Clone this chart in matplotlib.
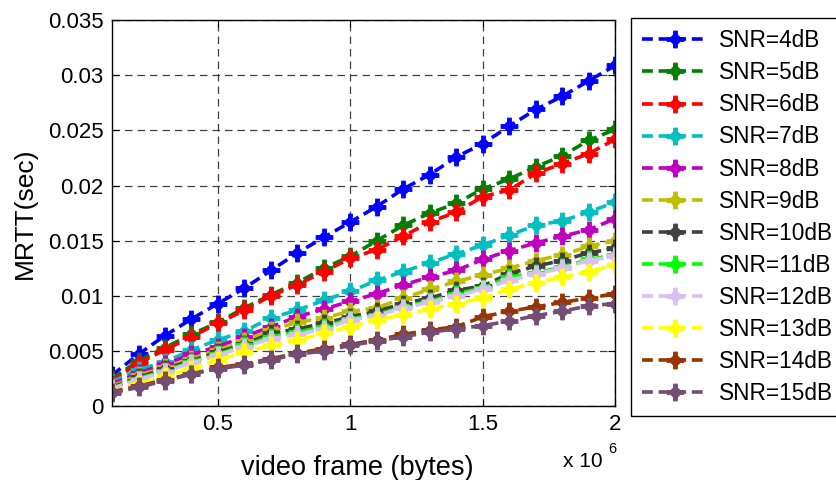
import numpy as np
import matplotlib
matplotlib.use("Agg")
import matplotlib.pyplot as plt
from matplotlib.path import Path

plt.rcParams['font.family'] = ['Liberation Sans', 'DejaVu Sans']

# video frame size in bytes
frame_sizes = [1e5, 2e5, 3e5, 4e5, 5e5, 6e5, 7e5, 8e5, 9e5, 10e5,
               11e5, 12e5, 13e5, 14e5, 15e5, 16e5, 17e5, 18e5, 19e5, 20e5]

snr_labels = ['SNR=4dB', 'SNR=5dB', 'SNR=6dB', 'SNR=7dB', 'SNR=8dB', 'SNR=9dB',
              'SNR=10dB', 'SNR=11dB', 'SNR=12dB', 'SNR=13dB', 'SNR=14dB', 'SNR=15dB']

# mean round-trip time (sec) per SNR level
mrtt_4db = [0.0028, 0.0047, 0.0064, 0.0079, 0.0093, 0.0107, 0.0123, 0.0139, 0.0153, 0.0167,
            0.0181, 0.0197, 0.0210, 0.0226, 0.0238, 0.0254, 0.0269, 0.0281, 0.0295, 0.0309]
mrtt_5db = [0.0025, 0.0041, 0.0053, 0.0065, 0.0076, 0.0089, 0.0101, 0.0112, 0.0125, 0.0136,
            0.0150, 0.0164, 0.0175, 0.0184, 0.0197, 0.0206, 0.0217, 0.0227, 0.0241, 0.0251]
mrtt_6db = [0.0023, 0.0039, 0.0051, 0.0063, 0.0075, 0.0087, 0.0100, 0.0110, 0.0122, 0.0134,
            0.0142, 0.0154, 0.0167, 0.0176, 0.0190, 0.0196, 0.0211, 0.0220, 0.0229, 0.0242]
mrtt_7db = [0.0022, 0.0033, 0.0040, 0.0051, 0.0060, 0.0068, 0.0080, 0.0087, 0.0096, 0.0104,
            0.0114, 0.0122, 0.0130, 0.0138, 0.0146, 0.0155, 0.0164, 0.0168, 0.0176, 0.0185]
mrtt_8db = [0.0020, 0.0030, 0.0038, 0.0047, 0.0054, 0.0063, 0.0072, 0.0081, 0.0088, 0.0095,
            0.0102, 0.0110, 0.0117, 0.0123, 0.0133, 0.0141, 0.0148, 0.0154, 0.0160, 0.0170]
mrtt_9db = [0.0018, 0.0028, 0.0035, 0.0043, 0.0051, 0.0059, 0.0069, 0.0076, 0.0080, 0.0086,
            0.0089, 0.0098, 0.0106, 0.0113, 0.0119, 0.0125, 0.0132, 0.0137, 0.0145, 0.0150]
mrtt_10db = [0.0017, 0.0026, 0.0034, 0.0041, 0.0049, 0.0056, 0.0066, 0.0070, 0.0075, 0.0081,
             0.0086, 0.0093, 0.0098, 0.0105, 0.0109, 0.0120, 0.0127, 0.0132, 0.0139, 0.0143]
mrtt_11db = [0.0016, 0.0025, 0.0032, 0.0040, 0.0047, 0.0055, 0.0063, 0.0067, 0.0072, 0.0079,
             0.0083, 0.0090, 0.0095, 0.0102, 0.0107, 0.0117, 0.0121, 0.0126, 0.0133, 0.0137]
mrtt_12db = [0.0016, 0.0024, 0.0031, 0.0039, 0.0046, 0.0054, 0.0061, 0.0065, 0.0070, 0.0078,
             0.0082, 0.0089, 0.0094, 0.0100, 0.0106, 0.0114, 0.0120, 0.0125, 0.0132, 0.0136]
mrtt_13db = [0.0013, 0.0020, 0.0027, 0.0034, 0.0042, 0.0049, 0.0055, 0.0060, 0.0066, 0.0072,
             0.0078, 0.0083, 0.0088, 0.0093, 0.0098, 0.0106, 0.0112, 0.0117, 0.0122, 0.0128]
mrtt_14db = [0.0013, 0.0018, 0.0024, 0.0029, 0.0035, 0.0038, 0.0043, 0.0048, 0.0052, 0.0056,
             0.0060, 0.0065, 0.0069, 0.0072, 0.0081, 0.0086, 0.0090, 0.0094, 0.0098, 0.0102]
mrtt_15db = [0.0012, 0.0017, 0.0023, 0.0029, 0.0034, 0.0037, 0.0042, 0.0047, 0.0050, 0.0055,
             0.0059, 0.0063, 0.0067, 0.0070, 0.0073, 0.0077, 0.0082, 0.0086, 0.0091, 0.0093]

series = [mrtt_4db, mrtt_5db, mrtt_6db, mrtt_7db, mrtt_8db, mrtt_9db,
          mrtt_10db, mrtt_11db, mrtt_12db, mrtt_13db, mrtt_14db, mrtt_15db]

colors = [(0, 0, 1), (0, 0.5, 0), (1, 0, 0), (0, 0.75, 0.75), (0.75, 0, 0.75),
          (0.75, 0.75, 0), (0.25, 0.25, 0.25), (0, 1, 0), (0.85, 0.75, 0.95),
          (1, 1, 0), (0.6, 0.2, 0.0), (0.45, 0.3, 0.45)]

y_ticks = [0, 0.005, 0.01, 0.015, 0.02, 0.025, 0.03, 0.035]
y_tick_labels = ['0', '0.005', '0.01', '0.015', '0.02', '0.025', '0.03', '0.035']
x_ticks = [0.5e6, 1e6, 1.5e6, 2e6]
x_tick_labels = ['0.5', '1', '1.5', '2']


def diamond_plus_marker():
    """Single outline: a filled diamond merged with a thick plus sign."""
    d = 0.78   # diamond half-diagonal
    w = 0.22   # half-width of the plus arms
    e = 1.0    # arm reach
    c = d - w  # where the diamond edge meets an arm
    verts = [(w, e), (w, c), (c, w), (e, w), (e, -w), (c, -w), (w, -c), (w, -e),
             (-w, -e), (-w, -c), (-c, -w), (-e, -w), (-e, w), (-c, w), (-w, c), (-w, e),
             (w, e)]
    codes = [Path.MOVETO] + [Path.LINETO] * (len(verts) - 2) + [Path.CLOSEPOLY]
    return Path(verts, codes)


marker = diamond_plus_marker()

fig = plt.figure(figsize=(8.36, 4.8), dpi=100)
ax = fig.add_axes([0.134, 0.154, 0.602, 0.804])

for vals, col, lab in zip(series, colors, snr_labels):
    ax.plot(frame_sizes, vals, linestyle=(0, (3.0, 1.6)), linewidth=2.6, color=col,
            marker=marker, markersize=12, markerfacecolor=col, markeredgecolor=col,
            markeredgewidth=0.8, label=lab)

ax.set_xlim(1e5, 2e6)
ax.set_ylim(0, 0.035)
ax.set_xticks(x_ticks)
ax.set_xticklabels(x_tick_labels)
ax.set_yticks(y_ticks)
ax.set_yticklabels(y_tick_labels)
ax.tick_params(direction='in', labelsize=16, length=5, width=0.8, top=True, right=True,
               pad=6)
ax.grid(True, color='0.25', linestyle=(0, (6, 4)), linewidth=0.9)
for sp in ax.spines.values():
    sp.set_linewidth(1.0)

ax.set_xlabel('video frame (bytes)', fontsize=19.5, labelpad=14)
ax.xaxis.label.set_x(0.487)
ax.set_ylabel('MRTT(sec)', fontsize=19, labelpad=8)

fig.text(0.673, 0.018, 'x 10', fontsize=15, ha='left', va='bottom')
fig.text(0.727, 0.05, '6', fontsize=10.5, ha='left', va='bottom')

leg = fig.legend(loc='upper left', bbox_to_anchor=(0.7548, 0.9625),
                 bbox_transform=fig.transFigure, borderaxespad=0, fontsize=16.3,
                 handlelength=2.9, handletextpad=0.5, labelspacing=0.40,
                 borderpad=0.5, fancybox=False, framealpha=1, edgecolor='k')
leg.get_frame().set_linewidth(1.0)

fig.savefig('out.png', dpi=100)
